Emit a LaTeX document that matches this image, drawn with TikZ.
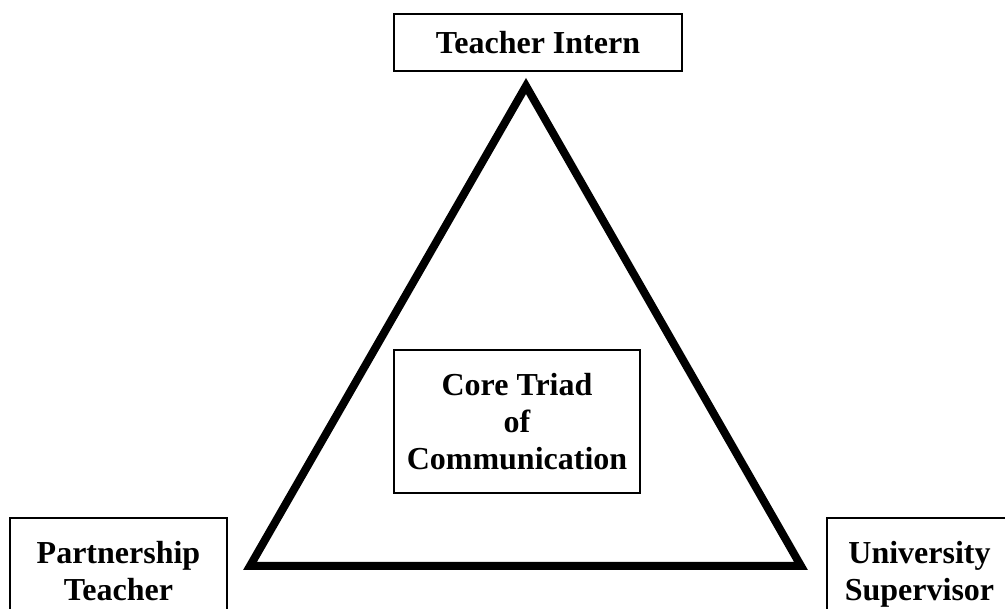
\documentclass[tikz,border=0pt]{standalone}
\usepackage{fontspec}
\setmainfont{Liberation Serif}

\begin{document}
\begin{tikzpicture}[
  x=1pt,
  y=-1pt,
  every node/.style={
    align=center,
    inner sep=0pt,
    font=\fontsize{32}{37}\selectfont\bfseries,
  },
  role/.style={draw,line width=1.3pt},
  triad/.style={line width=8pt,line join=miter},
  ]
  \useasboundingbox (0,0) rectangle (1005,609);
  \node[role,minimum width=288pt,minimum height=57pt] (intern) at (538,42.5) {Teacher Intern};
  \node[role,minimum width=217pt,minimum height=106pt] (partner) at (118.5,571) {Partnership\\Teacher};
  \node[role,minimum width=185pt,minimum height=112pt] (super) at (919.5,574) {University\\Supervisor};
  \node[role,minimum width=246pt,minimum height=143pt] (core) at (517,421.5) {Core Triad\\of\\Communication};
  \coordinate (apex) at (526,86);
  \coordinate (lcorner) at (250,566);
  \coordinate (rcorner) at (801,566);
  \draw[triad] (apex) -- (lcorner) -- (rcorner) -- cycle;
\end{tikzpicture}
\end{document}
